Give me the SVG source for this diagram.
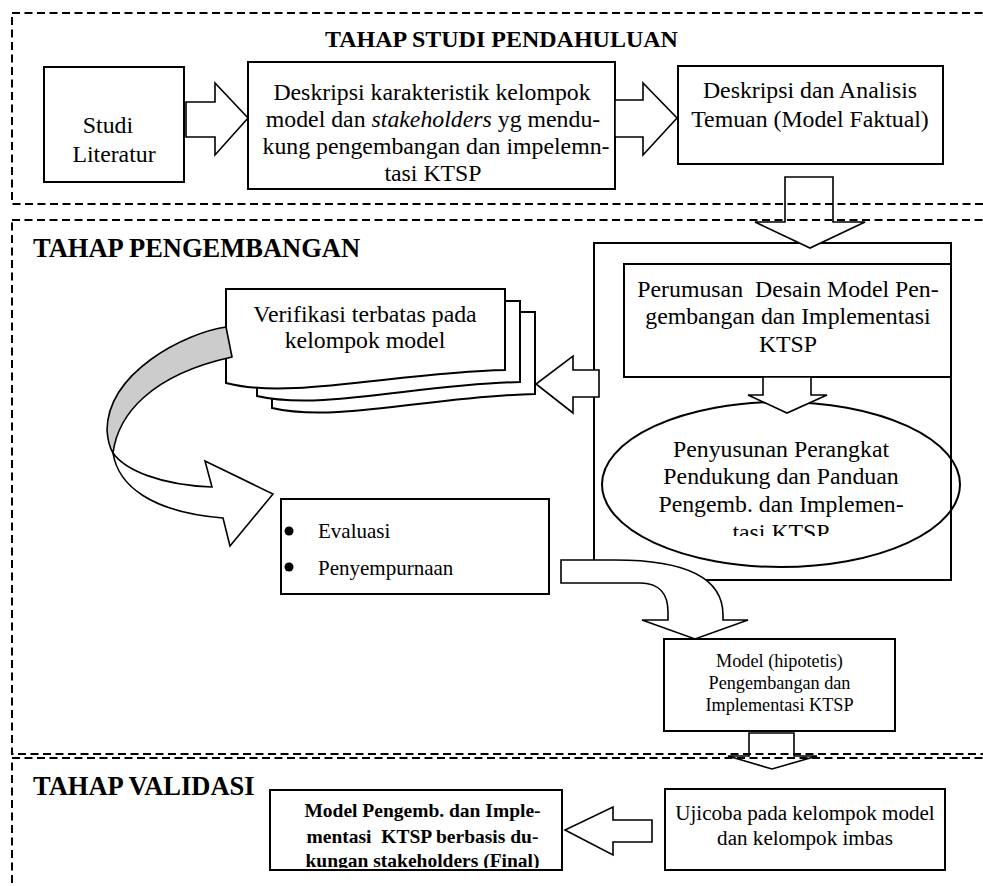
<svg xmlns="http://www.w3.org/2000/svg" width="983" height="886" viewBox="0 0 983 886">
<style>
.box{fill:#fff;stroke:#000;stroke-width:2}
.open{fill:none;stroke:#000;stroke-width:2}
.arr{fill:#fff;stroke:#000;stroke-width:1.6;stroke-linejoin:miter}
.gray{fill:#cccccc;stroke:#000;stroke-width:1.6}
.frame{fill:none;stroke:#000;stroke-width:2;stroke-dasharray:8 4.5}
.t{font-family:"Liberation Serif","Times New Roman",serif;font-size:23.8px;fill:#000;text-anchor:middle}
.s{font-family:"Liberation Serif","Times New Roman",serif;fill:#000}
.h{font-family:"Liberation Serif","Times New Roman",serif;font-weight:bold;fill:#000}
</style>
<defs>
<clipPath id="clipEll"><rect x="590" y="400" width="380" height="136"/></clipPath>
<clipPath id="clipFinal"><rect x="270" y="790" width="292" height="78"/></clipPath>
</defs>
<rect width="983" height="886" fill="#fff"/>

<g id="titles">
<text class="h" x="325" y="47" font-size="24">TAHAP STUDI PENDAHULUAN</text>
<text class="h" x="33" y="257" font-size="26.5">TAHAP PENGEMBANGAN</text>
<text class="h" x="33" y="795" font-size="26.5">TAHAP VALIDASI</text>
</g>

<g id="studi-literatur">
<rect class="box" x="44" y="67" width="140" height="115"/>
<text class="t"><tspan x="108" y="133">Studi</tspan><tspan x="114" y="162">Literatur</tspan></text>
</g>

<g id="deskripsi-karakteristik">
<rect class="box" x="248" y="62" width="367" height="127"/>
<text class="t"><tspan x="432" y="100">Deskripsi karakteristik kelompok</tspan><tspan x="433" y="127">model dan <tspan font-style="italic">stakeholders</tspan> yg mendu-</tspan><tspan x="436" y="154">kung pengembangan dan impelemn-</tspan><tspan x="433" y="181">tasi KTSP</tspan></text>
</g>

<g id="deskripsi-analisis">
<rect class="box" x="678" y="66" width="265" height="98"/>
<text class="t"><tspan x="810" y="98">Deskripsi dan Analisis</tspan><tspan x="810" y="127">Temuan (Model Faktual)</tspan></text>
</g>

<g id="penyusunan-perangkat">
<ellipse class="open" cx="781" cy="484.5" rx="179" ry="82.5"/>
<text class="t" clip-path="url(#clipEll)"><tspan x="781" y="457">Penyusunan Perangkat</tspan><tspan x="781" y="484">Pendukung dan Panduan</tspan><tspan x="781" y="512">Pengemb. dan Implemen-</tspan><tspan x="781" y="540">tasi KTSP</tspan></text>
</g>

<g id="pengembangan-container">
<rect class="open" x="594" y="243" width="357" height="337"/>
</g>

<g id="perumusan-desain">
<rect class="box" x="624" y="264" width="327" height="113"/>
<text class="t"><tspan x="788" y="297" xml:space="preserve">Perumusan  Desain Model Pen-</tspan><tspan x="788" y="324">gembangan dan Implementasi</tspan><tspan x="788" y="352">KTSP</tspan></text>
</g>

<g id="verifikasi">
<path class="box" d="M272,312 L535,312 L535,394 C435,396 336,423 272,408 Z"/>
<path class="box" d="M257,301 L520,301 L520,382 C420,384 321,411 257,396 Z"/>
<path class="box" d="M226,289 L505,289 L505,370 C400,372 290,400 226,383 Z"/>
<text class="t"><tspan x="365" y="322">Verifikasi terbatas pada</tspan><tspan x="365" y="348">kelompok model</tspan></text>
</g>

<g id="evaluasi">
<rect class="box" x="281" y="499" width="268" height="95"/>
<circle cx="289" cy="531" r="4.5" fill="#000"/>
<circle cx="289" cy="567" r="4.5" fill="#000"/>
<text class="s" font-size="21"><tspan x="318" y="538">Evaluasi</tspan><tspan x="318" y="575">Penyempurnaan</tspan></text>
</g>

<g id="model-hipotetis">
<rect class="box" x="664" y="639" width="231" height="92"/>
<text class="t" style="font-size:18.2px"><tspan x="779.5" y="667">Model (hipotetis)</tspan><tspan x="779.5" y="689">Pengembangan dan</tspan><tspan x="779.5" y="711">Implementasi KTSP</tspan></text>
</g>

<g id="ujicoba">
<rect class="box" x="665" y="789" width="280" height="81"/>
<text class="t" style="font-size:21.1px"><tspan x="805" y="820">Ujicoba pada kelompok model</tspan><tspan x="805" y="845">dan kelompok imbas</tspan></text>
</g>

<g id="model-final">
<rect class="box" x="270" y="790" width="292" height="80"/>
<text class="t" clip-path="url(#clipFinal)" style="font-size:19.5px;font-weight:bold"><tspan x="422.5" y="817">Model Pengemb. dan Imple-</tspan><tspan x="422.5" y="843" xml:space="preserve">mentasi  KTSP berbasis du-</tspan><tspan x="422.5" y="867">kungan stakeholders (Final)</tspan></text>
</g>

<g id="connectors">
<path class="arr" d="M186,102 L215,102 L215,83 L248,118 L215,155 L215,137 L186,137 Z"/>
<path class="arr" d="M615,100 L643,100 L643,83 L677,118 L643,155 L643,137 L615,137 Z"/>
<path class="arr" d="M785,177 L833,177 L833,222 L865,222 L810,248 L755,222 L785,222 Z"/>
<path class="arr" d="M763,377 L811,377 L811,395 L827,395 L787,413 L748,395 L763,395 Z"/>
<path class="arr" d="M599,370 L599,397 L573,397 L573,413 L536,384 L573,356 L573,370 Z"/>
<path class="gray" d="M226,327 C185,333 108,372 107,430 Q108,445 113,453 C118,415 150,375 232,357 Z"/>
<path class="arr" d="M113,453 C125,470 160,485 212,487 L205,461 L273,494 L230,546 L223,518 C150,512 118,485 113,453 Z"/>
<path class="arr" d="M561,560 L615,560 C690,560 723,580 723,615 L723,620 L748,620 L695,639 L642,620 L668,620 L668,612 C668,595 660,583 640,583 L561,583 Z"/>
<path class="arr" d="M749,733 L794,733 L794,756 L817,756 L772,769 L728,756 L749,756 Z"/>
<path class="arr" d="M652,820 L652,842 L613,842 L613,855 L565,830 L613,807 L613,820 Z"/>
</g>

<g id="section-frames">
<rect class="frame" x="12" y="13" width="990" height="191"/>
<rect class="frame" x="12" y="220" width="990" height="534"/>
<rect class="frame" x="12" y="758" width="990" height="160"/>
</g>
</svg>
